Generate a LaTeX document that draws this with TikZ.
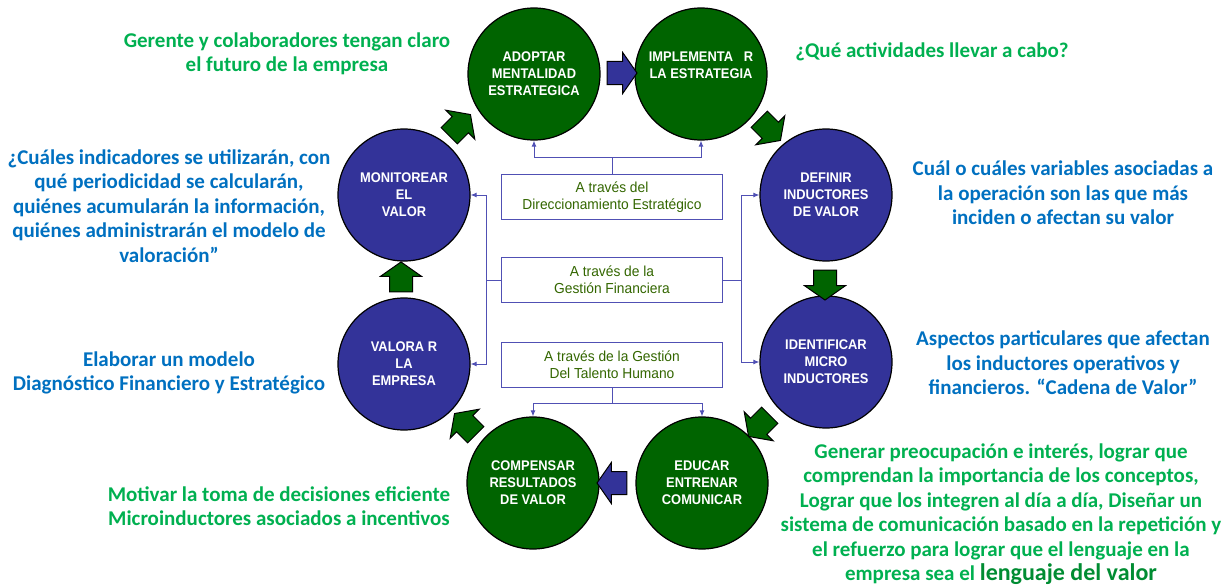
\documentclass[tikz,border=0pt]{standalone}
\usepackage{fontspec}
\setmainfont{Carlito}
\newfontfamily\circfont[FakeStretch=0.92]{Liberation Sans}
\newfontfamily\boxfont[FakeStretch=0.95]{Liberation Sans}
\usetikzlibrary{arrows.meta, shapes.arrows, calc}
\definecolor{stepgreen}{RGB}{0,100,0}
\definecolor{stepblue}{RGB}{51,51,153}
\definecolor{notegreen}{RGB}{0,176,80}
\definecolor{noteblue}{RGB}{0,112,192}
\definecolor{linkblue}{RGB}{80,80,180}
\definecolor{boxtext}{RGB}{51,102,0}
\definecolor{valuegreen}{RGB}{0,140,50}

\tikzset{
    stage/.style={circle, draw=black, line width=1.2pt, minimum size=132pt,
      inner sep=0pt, text=white, align=center,
      font=\circfont\bfseries\fontsize{14}{17}\selectfont},
    greenstage/.style={stage, fill=stepgreen},
    bluestage/.style={stage, fill=stepblue},
    via/.style={draw=linkblue, line width=1.6pt, minimum width=221pt,
      minimum height=45pt, inner sep=0pt, text=boxtext, align=center,
      font=\boxfont\fontsize{14.5}{17}\selectfont},
    conn/.style={draw=linkblue, line width=1pt},
    connarrow/.style={conn, -{Latex[length=6pt,width=5pt]}},
    flow/.style={single arrow, draw=black, line width=1pt, minimum height=30pt,
      inner xsep=0pt, inner ysep=11pt, single arrow head extend=9pt,
      single arrow tip angle=110},
    note/.style={font=\bfseries\fontsize{21}{24.5}\selectfont, align=center}
}

\begin{document}
\begin{tikzpicture}[x=1pt, y=-1pt]
    \useasboundingbox (0,0) rectangle (1223,586);

    % ciclo de etapas
    \node[greenstage] (adoptar) at (534,74) {ADOPTAR\\MENTALIDAD\\ESTRATEGICA};
    \node[greenstage] (implementar) at (701,74) {IMPLEMENTA~~~R\\LA ESTRATEGIA\\~};
    \node[bluestage] (definir) at (826,195) {DEFINIR\\INDUCTORES\\DE VALOR};
    \node[bluestage] (identificar) at (826,362) {IDENTIFICAR\\MICRO\\INDUCTORES};
    \node[greenstage] (educar) at (702,483) {EDUCAR\\ENTRENAR\\COMUNICAR};
    \node[greenstage] (compensar) at (533,483) {COMPENSAR\\RESULTADOS\\DE VALOR};
    \node[bluestage] (valorar) at (404,364) {VALORA R\\LA\\EMPRESA};
    \node[bluestage] (monitorear) at (404,195) {MONITOREAR\\EL\\VALOR};

    \node[flow, fill=stepblue] (f1) at (618,73) {};
    \node[flow, fill=stepgreen, rotate=-45] (f2) at (767,127) {};
    \node[flow, fill=stepgreen, rotate=-90] (f3) at (825,281) {};
    \node[flow, fill=stepgreen, rotate=-135] (f4) at (762,423) {};
    \node[flow, fill=stepblue, rotate=180] (f5) at (616,483) {};
    \node[flow, fill=stepgreen, rotate=135] (f6) at (468,427) {};
    \node[flow, fill=stepgreen, rotate=90] (f7) at (401,281) {};
    \node[flow, fill=stepgreen, rotate=45] (f8) at (457,128) {};

    % medios
    \node[via] (direcc) at (612,197) {A través del\\Direccionamiento Estratégico};
    \node[via] (financ) at (612,280) {A través de la\\Gestión Financiera};
    \node[via] (talento) at (612,365) {A través de la Gestión\\Del Talento Humano};

    \draw[conn] (direcc.north) -- ++(0,-16) coordinate (dtop);
    \draw[connarrow] (dtop) -| (adoptar.south);
    \draw[connarrow] (dtop) -| (implementar.south);
    \draw[conn] (financ.west) -- ++(-14,0) coordinate (fleft);
    \draw[connarrow] (fleft) |- (monitorear.east);
    \draw[connarrow] (fleft) |- (valorar.east);
    \draw[conn] (financ.east) -- ++(18,0) coordinate (fright);
    \draw[connarrow] (fright) |- (definir.west);
    \draw[connarrow] (fright) |- (identificar.west);
    \draw[conn] (talento.south) -- ++(0,15) coordinate (tbot);
    \draw[connarrow] (tbot) -| (compensar.north);
    \draw[connarrow] (tbot) -| (educar.north);

    % notas
    \node[note, text=notegreen] (nadoptar) at (287,54)
      {Gerente y colaboradores tengan claro\\el futuro de la empresa};
    \node[note, text=notegreen] (nimplementar) at (932,52)
      {¿Qué actividades llevar a cabo?};
    \node[note, text=noteblue] (ndefinir) at (1063,193)
      {Cuál o cuáles variables asociadas a\\la operación son las que más\\inciden o afectan su valor};
    \node[note, text=noteblue] (nidentificar) at (1063,363)
      {Aspectos particulares que afectan\\los inductores operativos y\\financieros. “Cadena de Valor”};
    \node[note, text=notegreen] (neducar) at (1001,514)
      {Generar preocupación e interés, lograr que\\comprendan la importancia de los conceptos,\\Lograr que los integren al día a día, Diseñar un\\sistema de comunicación basado en la repetición y\\el refuerzo para lograr que el lenguaje en la\\empresa sea el {\fontsize{24}{24.5}\selectfont\color{valuegreen}lenguaje del valor}};
    \node[note, text=notegreen] (ncompensar) at (279,506)
      {Motivar la toma de decisiones eficiente\\Microinductores asociados a incentivos};
    \node[note, text=noteblue] (nvalorar) at (169,373)
      {Elaborar un modelo\\Diagnóstico Financiero y Estratégico};
    \node[note, text=noteblue] (nmonitorear) at (169,206)
      {¿Cuáles indicadores se utilizarán, con\\qué periodicidad se calcularán,\\quiénes acumularán la información,\\quiénes administrarán el modelo de\\valoración”};
\end{tikzpicture}
\end{document}
